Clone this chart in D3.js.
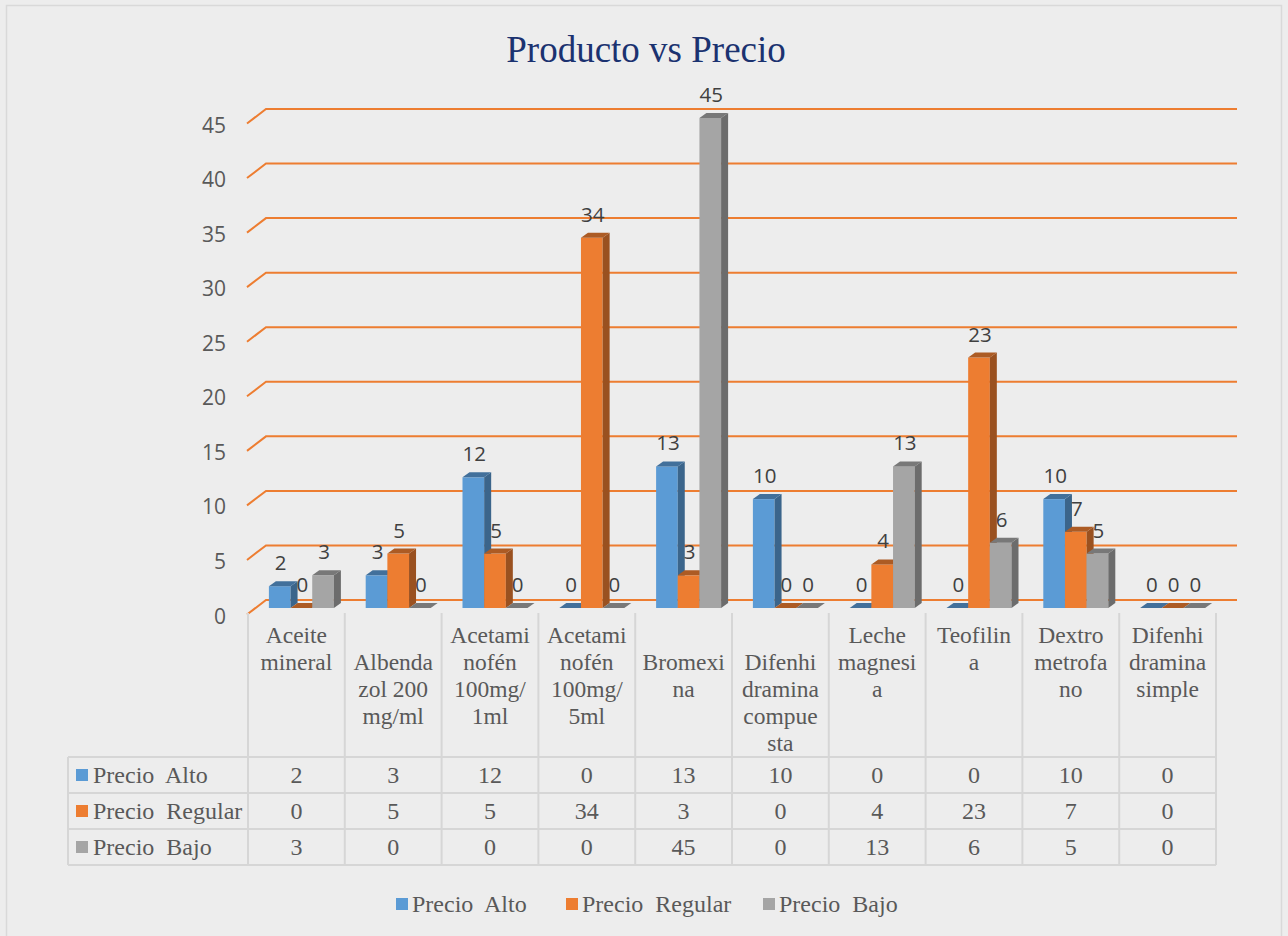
<!DOCTYPE html>
<html>
<head>
<meta charset="utf-8">
<script src="https://cdn.jsdelivr.net/npm/d3@7"></script>
<style>
  html, body { margin: 0; padding: 0; background: #ededed; }
  svg text { white-space: pre; }
</style>
</head>
<body>
<svg id="chart" width="1288" height="936"></svg>
<script>
// Products (wrapped the way they appear in the table header)
const categoryLines = [
  ["Aceite", "mineral"],
  ["", "Albenda", "zol 200", "mg/ml"],
  ["Acetami", "nofén", "100mg/", "1ml"],
  ["Acetami", "nofén", "100mg/", "5ml"],
  ["", "Bromexi", "na"],
  ["", "Difenhi", "dramina", "compue", "sta"],
  ["Leche", "magnesi", "a"],
  ["Teofilin", "a"],
  ["Dextro", "metrofa", "no"],
  ["Difenhi", "dramina", "simple"]
];
const categories = categoryLines.map(l => l.join(" ").trim());

const seriesNames = ["Precio  Alto", "Precio  Regular", "Precio  Bajo"];
const precioAlto    = [2, 3, 12, 0, 13, 10, 0, 0, 10, 0];
const precioRegular = [0, 5, 5, 34, 3, 0, 4, 23, 7, 0];
const precioBajo    = [3, 0, 0, 0, 45, 0, 13, 6, 5, 0];
const seriesValues = [precioAlto, precioRegular, precioBajo];
const seriesColors = ["#5B9BD5", "#ED7D31", "#A5A5A5"];

const yTicks = [0, 5, 10, 15, 20, 25, 30, 35, 40, 45];

const svg = d3.select("#chart");
const W = 1288, H = 936;

// background + outer frame
svg.append("rect").attr("x", 0).attr("y", 0).attr("width", W).attr("height", H).attr("fill", "#ededed");
svg.append("rect").attr("x", 6.5).attr("y", 5.5).attr("width", 1275).attr("height", 960)
  .attr("fill", "#ededed").attr("stroke", "#d9d9d9").attr("stroke-width", 1.5);

// title
svg.append("text").attr("x", 646).attr("y", 62).attr("text-anchor", "middle")
  .attr("font-family", "'Liberation Serif', 'Times New Roman', serif")
  .attr("font-size", 37).attr("fill", "#1b3270").text("Producto vs Precio");

// geometry
const colLeft = 248, colRight = 1216;
const depthX = 19, depthY = 14.5;         // wall depth offset
const x0 = d3.scaleBand().domain(d3.range(categories.length)).range([colLeft, colRight]);
const x1 = d3.scaleBand().domain(d3.range(seriesNames.length)).range([0, 65]);
const yWall = d3.scaleLinear().domain([0, 45]).range([600, 109]);
const yBar  = d3.scaleLinear().domain([0, 45]).range([608, 118]);
const barShiftX = 5;                        // bars sit midway in depth
const bx = 7, by = 5;                       // bar's own depth
const sans = "'Open Sans', 'Liberation Sans', sans-serif";
const serif = "'Liberation Serif', 'Times New Roman', serif";

// gridlines on the back wall, with the floor-edge diagonal
const grid = svg.append("g");
yTicks.forEach(t => {
  const yb = yWall(t);
  grid.append("path")
    .attr("d", `M${colLeft - 1},${yb + depthY} L${colLeft - 1 + depthX},${yb} L1237,${yb}`)
    .attr("fill", "none").attr("stroke", "#ED7D31").attr("stroke-width", 2);
  grid.append("text").attr("x", 226).attr("y", yb + depthY + 1)
    .attr("text-anchor", "end").attr("dominant-baseline", "central")
    .attr("font-family", sans)
    .attr("font-size", 21).attr("fill", "#595959").text(t);
});

// bars
const bars = svg.append("g");
const labels = svg.append("g");
categories.forEach((c, i) => {
  const groupStart = x0(i) + x0.bandwidth() / 2 + barShiftX - 32.5;
  seriesValues.forEach((vals, s) => {
    const v = vals[i];
    const xa = groupStart + x1(s), xb = xa + x1.bandwidth();
    const yt = yBar(v), y0 = yBar(0);
    const col = d3.color(seriesColors[s]);
    const side = col.darker(1.2).formatHex();
    const top = col.darker(0.9).formatHex();
    if (v > 0) {
      bars.append("rect").attr("x", xa).attr("y", yt).attr("width", xb - xa).attr("height", y0 - yt)
        .attr("fill", seriesColors[s]);
      bars.append("path")
        .attr("d", `M${xb},${yt} L${xb + bx},${yt - by} L${xb + bx},${y0 - by} L${xb},${y0} Z`)
        .attr("fill", side);
    }
    bars.append("path")
      .attr("d", `M${xa},${yt} L${xb},${yt} L${xb + bx},${yt - by} L${xa + bx},${yt - by} Z`)
      .attr("fill", top);
    labels.append("text").attr("x", (xa + xb) / 2 + 1).attr("y", yt - 24)
      .attr("text-anchor", "middle").attr("dominant-baseline", "central")
      .attr("font-family", sans)
      .attr("font-size", 20.5).attr("fill", "#404040").text(v);
  });
});

// data table
const table = svg.append("g");
const tableLeft = 68, headTop = 613, headBottom = 757;
const rowH = 36;
const lineStroke = "#d6d6d6";
const rowsBottom = headBottom + rowH * seriesNames.length;
const tFont = 24, hFont = 23.5;

// vertical rules
d3.range(categories.length + 1).forEach(k => {
  const x = k < categories.length ? x0(k) : colRight;
  table.append("line").attr("x1", x).attr("x2", x).attr("y1", headTop).attr("y2", rowsBottom)
    .attr("stroke", lineStroke).attr("stroke-width", 2);
});
table.append("line").attr("x1", tableLeft).attr("x2", tableLeft).attr("y1", headBottom).attr("y2", rowsBottom)
  .attr("stroke", lineStroke).attr("stroke-width", 2);
// horizontal rules
d3.range(seriesNames.length + 1).forEach(r => {
  const y = headBottom + r * rowH;
  table.append("line").attr("x1", tableLeft).attr("x2", colRight).attr("y1", y).attr("y2", y)
    .attr("stroke", lineStroke).attr("stroke-width", 2);
});

// category header text
categoryLines.forEach((lines, i) => {
  const cx = x0(i) + x0.bandwidth() / 2;
  lines.forEach((ln, j) => {
    table.append("text").attr("x", cx).attr("y", 643 + j * 27)
      .attr("text-anchor", "middle").attr("font-family", serif)
      .attr("font-size", hFont).attr("fill", "#595959").text(ln);
  });
});

// series rows
seriesNames.forEach((name, s) => {
  const yMid = headBottom + s * rowH + rowH / 2;
  table.append("rect").attr("x", 76).attr("y", yMid - 6).attr("width", 12).attr("height", 12)
    .attr("fill", seriesColors[s]);
  table.append("text").attr("x", 93).attr("y", yMid + 8)
    .attr("font-family", serif).attr("font-size", tFont)
    .attr("fill", "#595959").text(name);
  seriesValues[s].forEach((v, i) => {
    table.append("text").attr("x", x0(i) + x0.bandwidth() / 2).attr("y", yMid + 8)
      .attr("text-anchor", "middle").attr("font-family", serif)
      .attr("font-size", tFont).attr("fill", "#595959").text(v);
  });
});

// legend
const legendX = [396, 566, 763];
const legend = svg.append("g");
seriesNames.forEach((name, s) => {
  legend.append("rect").attr("x", legendX[s]).attr("y", 898).attr("width", 12).attr("height", 12)
    .attr("fill", seriesColors[s]);
  legend.append("text").attr("x", legendX[s] + 16).attr("y", 912)
    .attr("font-family", serif).attr("font-size", tFont)
    .attr("fill", "#595959").text(name);
});
</script>
</body>
</html>
